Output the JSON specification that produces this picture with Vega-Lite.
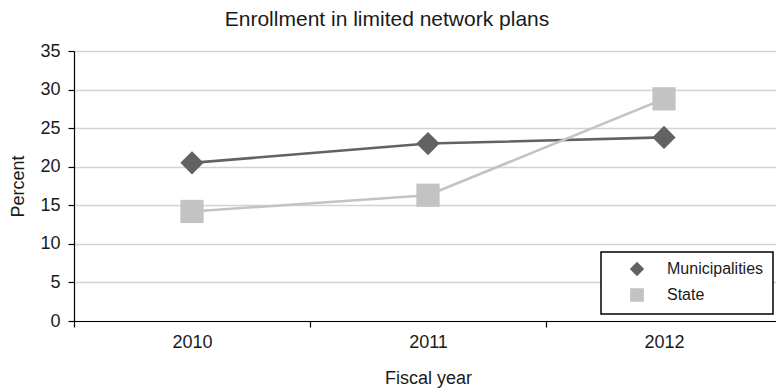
{
  "$schema": "https://vega.github.io/schema/vega-lite/v6.json",
  "width": 702,
  "height": 270,
  "autosize": {"type": "none"},
  "padding": {"left": 74, "top": 51, "right": 0, "bottom": 69},
  "background": "white",
  "title": {
    "text": "Enrollment in limited network plans",
    "fontSize": 21,
    "font": "Liberation Sans",
    "fontWeight": "normal",
    "color": "#1a1a1a",
    "anchor": "middle",
    "frame": "group",
    "dx": -38,
    "offset": 12
  },
  "data": {
    "values": [
      {"year": "2010", "series": "Municipalities", "value": 20.5},
      {"year": "2011", "series": "Municipalities", "value": 23.0},
      {"year": "2012", "series": "Municipalities", "value": 23.8},
      {"year": "2010", "series": "State", "value": 14.2},
      {"year": "2011", "series": "State", "value": 16.3},
      {"year": "2012", "series": "State", "value": 28.8}
    ]
  },
  "encoding": {
    "x": {
      "field": "year",
      "type": "nominal",
      "scale": {"range": [0, 708], "paddingInner": 0, "paddingOuter": 0},
      "axis": {
        "title": "Fiscal year",
        "labelAngle": 0,
        "tickBand": "extent",
        "tickSize": 6,
        "labelPadding": 6,
        "titlePadding": 18,
        "grid": false
      }
    },
    "y": {
      "field": "value",
      "type": "quantitative",
      "scale": {"domain": [0, 35]},
      "axis": {
        "title": "Percent",
        "values": [0, 5, 10, 15, 20, 25, 30, 35],
        "tickSize": 6,
        "labelPadding": 8,
        "titlePadding": 12,
        "grid": true
      }
    },
    "color": {
      "field": "series",
      "type": "nominal",
      "scale": {"domain": ["Municipalities", "State"], "range": ["#626262", "#c3c3c3"]},
      "legend": {
        "title": null,
        "orient": "none",
        "legendX": 527,
        "legendY": 201,
        "strokeColor": "#000000",
        "fillColor": "#ffffff",
        "padding": 9,
        "labelFont": "Liberation Sans",
        "labelFontSize": 16,
        "labelColor": "#1a1a1a",
        "labelOffset": 22,
        "symbolOffset": 19,
        "rowPadding": 6,
        "symbolSize": 150,
        "encode": {
          "legend": {
            "update": {"strokeWidth": {"value": 1.5}}
          }
        }
      }
    }
  },
  "layer": [
    {
      "mark": {"type": "line", "strokeWidth": 2.6}
    },
    {
      "mark": {"type": "point", "filled": true, "opacity": 1, "size": 540},
      "encoding": {
        "shape": {
          "field": "series",
          "type": "nominal",
          "scale": {"domain": ["Municipalities", "State"], "range": ["diamond", "square"]},
          "legend": null
        }
      }
    }
  ],
  "config": {
    "view": {"stroke": null},
    "axis": {
      "labelFont": "Liberation Sans",
      "labelFontSize": 18,
      "labelColor": "#1a1a1a",
      "titleFont": "Liberation Sans",
      "titleFontSize": 18,
      "titleFontWeight": "normal",
      "titleColor": "#1a1a1a",
      "domainColor": "#000000",
      "domainWidth": 1.2,
      "tickColor": "#000000",
      "tickWidth": 1.2,
      "gridColor": "#d3d3d3",
      "gridWidth": 1.5
    }
  }
}
